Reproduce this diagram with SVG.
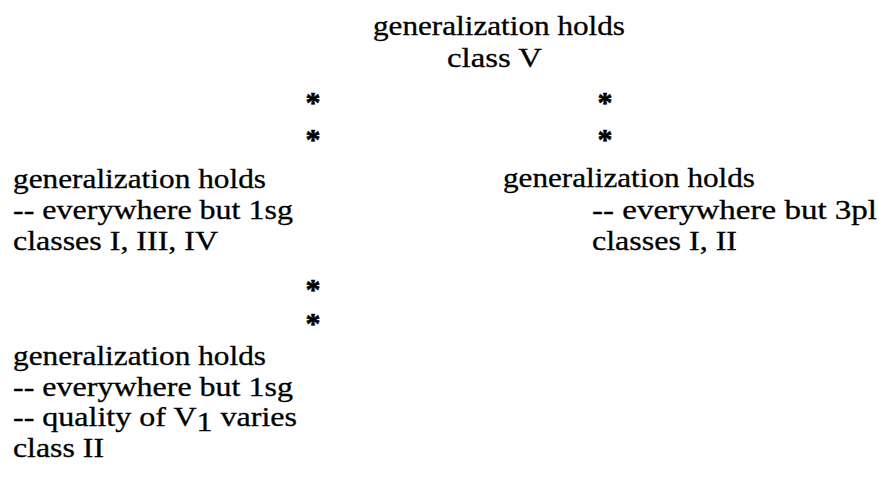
<svg xmlns="http://www.w3.org/2000/svg" width="879" height="490" viewBox="0 0 879 490">
<style>
text{font-family:"Liberation Serif","Times New Roman",serif;font-size:27px;fill:#000;stroke:#000;stroke-width:0.3;}
.star{text-anchor:middle;font-size:30px;font-weight:bold;stroke-width:0.6;}
</style>
<rect width="879" height="490" fill="#fff"/>
<g id="node-top">
<text x="373" y="35" textLength="252" lengthAdjust="spacingAndGlyphs">generalization holds</text>
<text x="447" y="67" textLength="95" lengthAdjust="spacingAndGlyphs">class V</text>
</g>
<g id="node-left">
<text x="13" y="188" textLength="253" lengthAdjust="spacingAndGlyphs">generalization holds</text>
<text x="13" y="219" textLength="280" lengthAdjust="spacingAndGlyphs">-- everywhere but 1sg</text>
<text x="13" y="250" textLength="205" lengthAdjust="spacingAndGlyphs">classes I, III, IV</text>
</g>
<g id="node-right">
<text x="503" y="187" textLength="252" lengthAdjust="spacingAndGlyphs">generalization holds</text>
<text x="592" y="219" textLength="285" lengthAdjust="spacingAndGlyphs">-- everywhere but 3pl</text>
<text x="592" y="250" textLength="145" lengthAdjust="spacingAndGlyphs">classes I, II</text>
</g>
<g id="node-bottom">
<text x="13" y="365" textLength="253" lengthAdjust="spacingAndGlyphs">generalization holds</text>
<text x="13" y="396" textLength="280" lengthAdjust="spacingAndGlyphs">-- everywhere but 1sg</text>
<text x="13" y="426" textLength="284" lengthAdjust="spacingAndGlyphs">-- quality of V<tspan dy="5">1</tspan><tspan dy="-5"> varies</tspan></text>
<text x="13" y="457" textLength="91" lengthAdjust="spacingAndGlyphs">class II</text>
</g>
<g id="connectors">
<text class="star" x="313" y="112">*</text>
<text class="star" x="313" y="149">*</text>
<text class="star" x="605" y="112">*</text>
<text class="star" x="605" y="149">*</text>
<text class="star" x="313" y="299">*</text>
<text class="star" x="313" y="333">*</text>
</g>
</svg>
